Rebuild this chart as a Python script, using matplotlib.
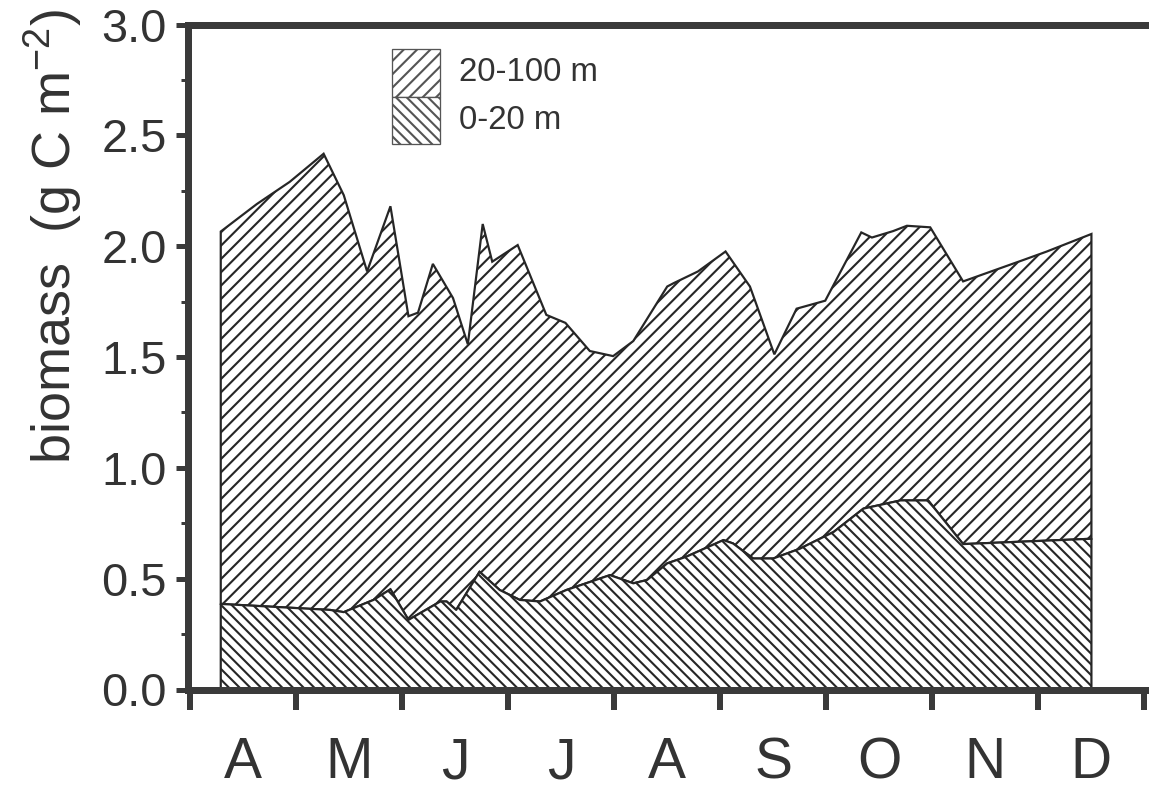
import numpy as np
import matplotlib
matplotlib.use("Agg")
import matplotlib.pyplot as plt
from matplotlib.patches import Rectangle

# ---- data (x in months since 1 April; y in g C m^-2) ----
months = ["A", "M", "J", "J", "A", "S", "O", "N", "D"]

x_total = [0.29, 0.63, 0.94, 1.26, 1.45, 1.67, 1.89, 2.06, 2.15, 2.29, 2.48, 2.62,
           2.76, 2.85, 3.09, 3.36, 3.54, 3.77, 3.99, 4.18, 4.50, 4.56, 4.79, 5.05,
           5.28, 5.51, 5.72, 5.99, 6.33, 6.43, 6.63, 6.76, 6.98, 7.29, 7.86, 8.08, 8.50]
total = [2.066, 2.19, 2.29, 2.417, 2.23, 1.886, 2.18, 1.684, 1.70, 1.92, 1.766, 1.557,
         2.10, 1.93, 2.005, 1.69, 1.654, 1.527, 1.504, 1.572, 1.818, 1.833, 1.886, 1.976,
         1.818, 1.512, 1.718, 1.754, 2.062, 2.039, 2.068, 2.092, 2.085, 1.841, 1.938, 1.976, 2.055]

x_surf = [0.29, 1.32, 1.45, 1.73, 1.89, 2.06, 2.36, 2.42, 2.51, 2.73, 2.92, 3.11,
          3.30, 3.55, 3.96, 4.18, 4.31, 4.50, 4.68, 5.03, 5.12, 5.31, 5.50, 5.75,
          6.07, 6.35, 6.70, 6.96, 7.29, 8.50]
surf = [0.386, 0.359, 0.349, 0.404, 0.452, 0.314, 0.397, 0.397, 0.359, 0.531, 0.449, 0.404,
        0.397, 0.449, 0.516, 0.479, 0.494, 0.569, 0.599, 0.674, 0.659, 0.591, 0.591, 0.635,
        0.711, 0.816, 0.853, 0.853, 0.656, 0.68]

labels = ["20-100 m", "0-20 m"]

# ---- figure geometry (pixel based) ----
DPI = 320
W_PX, H_PX = 1149, 791
P = 72.0 / DPI  # px -> pt

plt.rcParams["font.family"] = ["Liberation Sans", "DejaVu Sans"]
plt.rcParams["mathtext.fontset"] = "custom"
plt.rcParams["mathtext.rm"] = "Liberation Sans"
plt.rcParams["mathtext.it"] = "Liberation Sans:italic"
plt.rcParams["hatch.linewidth"] = 2.1 * P

INK = "#262626"
AX = "#3a3a3a"
TXT = "#333333"
HATCH_UP = "/" * 8
HATCH_DOWN = "\\" * 10

fig = plt.figure(figsize=(W_PX / DPI, H_PX / DPI), dpi=DPI)
left_px, right_px, top_px, bot_px = 187.5, 1153.0, 24.5, 689.5
ax = fig.add_axes([left_px / W_PX, (H_PX - bot_px) / H_PX,
                   (right_px - left_px) / W_PX, (bot_px - top_px) / H_PX])

px_per_month = 106.05
ax.set_xlim(-(190 - left_px) / px_per_month, (right_px - 190) / px_per_month)
ax.set_ylim(0, 3.0)

# upper layer (20-100 m): between surface and total
poly_x = np.concatenate([x_total, x_surf[::-1]])
poly_y = np.concatenate([total, surf[::-1]])
ax.fill(poly_x, poly_y, facecolor="white", edgecolor=INK, hatch=HATCH_UP,
        linewidth=2.2 * P, zorder=2)
# lower layer (0-20 m)
ax.fill_between(x_surf, 0, surf, facecolor="white", edgecolor=INK, hatch=HATCH_DOWN,
                linewidth=2.2 * P, zorder=2)

# spines
for s in ax.spines.values():
    s.set_linewidth(7 * P)
    s.set_color(AX)

# ticks
ax.set_xticks(np.arange(0, 10))
ax.set_xticklabels([])
ax.set_xticks(np.arange(len(months)) + 0.5, minor=True)
ax.set_xticklabels(months, minor=True)
ax.tick_params(axis="x", which="major", direction="out", length=20 * P, width=6 * P,
               color=AX)
ax.tick_params(axis="x", which="minor", length=0, pad=47 * P, labelsize=57 * P,
               labelcolor=TXT)

ax.set_yticks(np.arange(0, 3.01, 0.5))
ax.set_yticklabels([f"{v:.1f}" for v in np.arange(0, 3.01, 0.5)])
ax.set_yticks(np.arange(0.25, 3.0, 0.5), minor=True)
ax.tick_params(axis="y", which="major", direction="out", length=12 * P, width=5 * P,
               color=AX, pad=9 * P, labelsize=47 * P, labelcolor=TXT)
ax.tick_params(axis="y", which="minor", direction="out", length=7 * P, width=3 * P,
               color=AX)

fig.text(53 / W_PX, 1 - 237 / H_PX, r"biomass  (g C m$^{\mathregular{-2}}$)",
         rotation=90, ha="center", va="center", fontsize=54 * P, color=TXT)

# legend (drawn as figure-level patches and texts)
bx, bw, bh, by0 = 392, 48, 47.5, 49
for i, (lab, h) in enumerate(zip(labels, [HATCH_UP, HATCH_DOWN])):
    y_top = by0 + i * bh
    r = Rectangle((bx / W_PX, 1 - (y_top + bh) / H_PX), bw / W_PX, bh / H_PX,
                  transform=fig.transFigure, facecolor="white", edgecolor="#555555",
                  hatch=h, linewidth=1.3 * P)
    fig.patches.append(r)
    fig.text(459 / W_PX, 1 - (y_top + bh / 2) / H_PX, lab, ha="left", va="center",
             fontsize=33 * P, color=TXT)

fig.savefig("out.png", dpi=DPI)
